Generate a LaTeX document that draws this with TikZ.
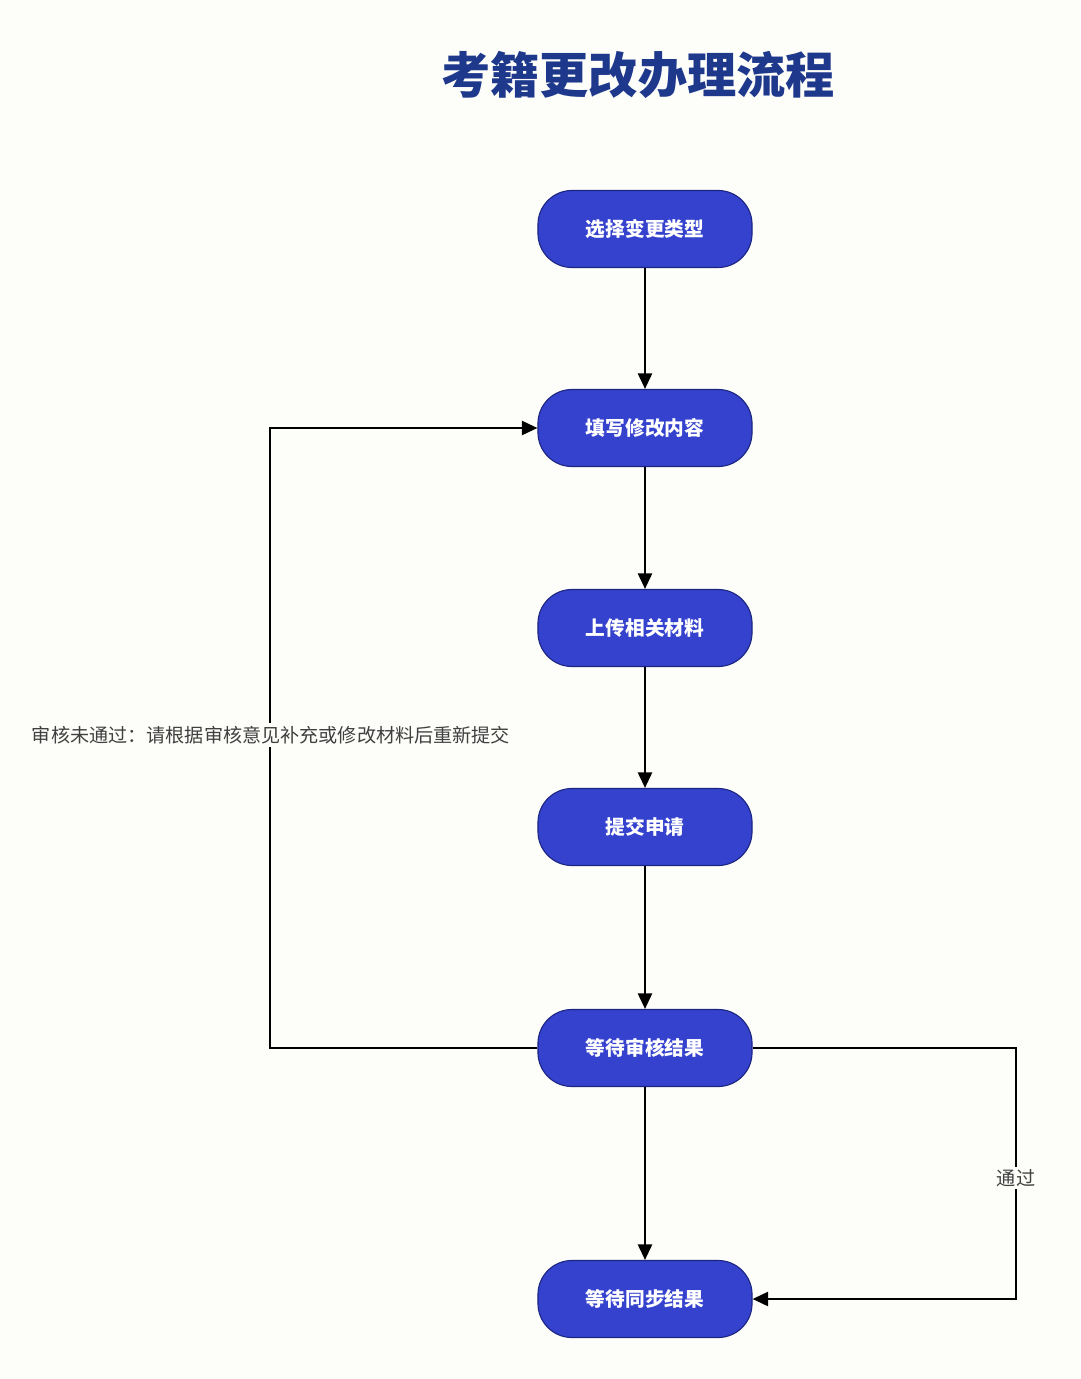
\documentclass[tikz,border=0pt]{standalone}
\usepackage{fontspec}
\usetikzlibrary{arrows.meta}
\newfontfamily\cjk{Noto Sans CJK SC}
\definecolor{stepblue}{RGB}{52,66,206}
\definecolor{stepedge}{RGB}{28,38,130}
\definecolor{titleblue}{RGB}{30,56,140}
\definecolor{paper}{RGB}{253,253,250}

\begin{document}
\begin{tikzpicture}
        [   x=0.025cm, y=-0.025cm,
            StepNode/.style=
            {rectangle, rounded corners=0.85cm, draw=stepedge, fill=stepblue,
            thick, minimum width=5.35cm, minimum height=1.925cm,
            text=white, font=\cjk\bfseries\fontsize{14pt}{16pt}\selectfont},
            FlowLine/.style=
            {draw=black, line width=1.5pt, -{Triangle[length=11pt,width=10pt]}},
            EdgeLabel/.style=
            {fill=paper, inner sep=2pt, text=black!75,
            font=\cjk\fontsize{13.6pt}{16pt}\selectfont}
        ]
            \fill[paper] (0,0) rectangle (1080,1379);
            \useasboundingbox (0,0) rectangle (1080,1379);

            \node[text=titleblue, font=\cjk\bfseries\fontsize{35pt}{40pt}\selectfont]
                (title) at (638,75) {考籍更改办理流程};

            \foreach \n/\y/\txt in {s1/229/选择变更类型, s2/428/填写修改内容,
                    s3/628/上传相关材料, s4/827/提交申请,
                    s5/1048/等待审核结果, s6/1299/等待同步结果}
                \node[StepNode] (\n) at (645,\y) {\txt};

            \coordinate (backtop) at (270,428);
            \coordinate (backbot) at (270,1048);
            \coordinate (passtop) at (1016,1048);
            \coordinate (passbot) at (1016,1299);

            \draw[FlowLine] (s1) -- (s2);
            \draw[FlowLine] (s2) -- (s3);
            \draw[FlowLine] (s3) -- (s4);
            \draw[FlowLine] (s4) -- (s5);
            \draw[FlowLine] (s5) -- (s6);

            % rejected: back to editing
            \draw[FlowLine] (s5.west) -- (backbot) -- (backtop) -- (s2.west);
            \node[EdgeLabel] (rejlabel) at (271,735)
                {审核未通过：请根据审核意见补充或修改材料后重新提交};

            % approved
            \draw[FlowLine] (s5.east) -- (passtop) -- (passbot) -- (s6.east);
            \node[EdgeLabel] (passlabel) at (1016,1178) {通过};
    \end{tikzpicture}
\end{document}
